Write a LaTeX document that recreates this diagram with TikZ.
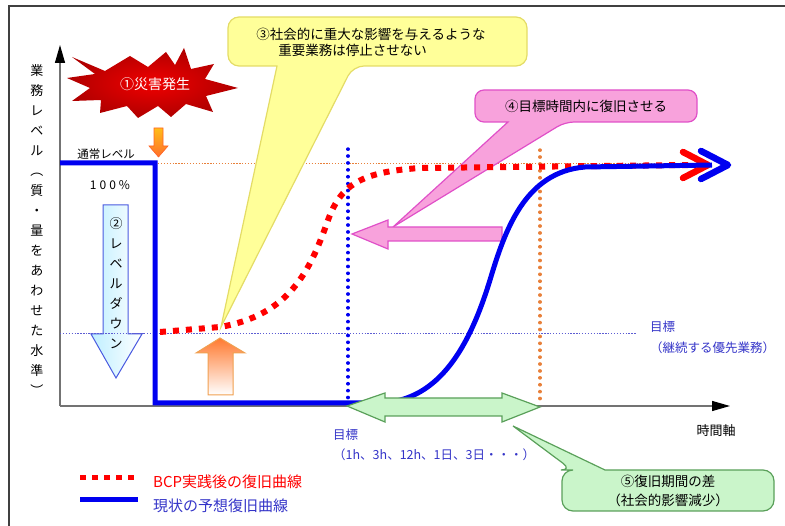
\documentclass[tikz,border=0pt]{standalone}
\usepackage{fontspec}
\setmainfont{Noto Sans CJK JP}
\usetikzlibrary{arrows.meta}
\definecolor{lineblue}{HTML}{0000F0}
\definecolor{bcpred}{HTML}{FF0000}
\definecolor{txtblue}{HTML}{3434C8}
\definecolor{dotorange}{HTML}{E8803A}
\definecolor{yfill}{HTML}{FFFF99}
\definecolor{ydraw}{HTML}{E4DC66}
\definecolor{pfill}{HTML}{F8A2DC}
\definecolor{pdraw}{HTML}{E050C8}
\definecolor{gfill}{HTML}{CAF5CA}
\definecolor{gdraw}{HTML}{5AA05A}
\definecolor{boomred}{HTML}{F00000}
\definecolor{boomdark}{HTML}{B00000}
\definecolor{arrorange}{HTML}{FF7A30}
\definecolor{arrorangeb}{HTML}{F0A050}
\definecolor{arrcyan}{HTML}{BFEFFF}
\definecolor{arrcyanb}{HTML}{4A5AE0}
\newcommand\myfs[2]{\fontsize{#1}{#2}\selectfont}
\tikzset{
  axisline/.style={draw=black!55, line width=1.3pt},
  curblue/.style={draw=lineblue, line width=5pt},
  bcpline/.style={draw=bcpred, line width=6pt, dash pattern=on 6pt off 7pt},
  chev/.style={line width=6.5pt, line cap=round, line join=round},
  thinorange/.style={draw=dotorange, line width=0.9pt, dash pattern=on 1.3pt off 1.6pt},
  thinblue/.style={draw=txtblue!80, line width=0.9pt, dash pattern=on 1.3pt off 1.6pt},
  vdotblue/.style={draw=lineblue, line width=3.4pt, line cap=round, dash pattern=on 0.3pt off 6.6pt},
  vdotorange/.style={draw=dotorange, line width=3.4pt, line cap=round, dash pattern=on 0.3pt off 6.6pt},
  ycall/.style={fill=yfill, draw=ydraw, line width=1.2pt},
  pcall/.style={fill=pfill, draw=pdraw, line width=1.2pt},
  gcall/.style={fill=gfill, draw=gdraw, line width=1.2pt},
  lbl/.style={inner sep=0pt, font=\myfs{13.5}{16}},
  bluelbl/.style={inner sep=0pt, text=txtblue, font=\myfs{12.5}{15}},
  axtip/.style={-{Triangle[length=18pt,width=10pt,color=black]}},
}
\begin{document}
\begin{tikzpicture}[x=1pt,y=-1pt]
\useasboundingbox (0,0) rectangle (785,526);
% frame
\draw[black!75, line width=1.5pt] (785,6) -- (9,6) -- (9,526);

% named points
\coordinate (O) at (60,406);
\coordinate (Ytop) at (60,45);
\coordinate (Xend) at (730,406);

% axes
\draw[axisline, axtip] (O) -- (Ytop);
\draw[axisline, axtip] (O) -- (Xend);

% y-axis label
\node[inner sep=0pt, align=center, font=\myfs{13}{20}] (ylab) at (37,230)
  {業\\務\\レ\\ベ\\ル\\︵\\質\\・\\量\\を\\あ\\わ\\せ\\た\\水\\準\\︶};

% explosion
\shade[inner color=boomred, outer color=boomdark]
  (72,57) -- (105,71) -- (130,56) -- (148,67) -- (166,52) -- (175,65) -- (184,48)
  -- (191,69) -- (214,64) -- (205,79) -- (238,88) -- (206,96) -- (213,112)
  -- (186,104) -- (171,117) -- (158,106) -- (138,118) -- (127,106) -- (100,113)
  -- (101,100) -- (72,101) -- (90,88) -- (67,78) -- (95,74) -- cycle;
\node[lbl, text=white, font=\myfs{14}{16}] (boom) at (155,84) {①災害発生};

% labels near step
\node[lbl, font=\myfs{11.5}{14}] (normal) at (106,154) {通常レベル};
\node[lbl, font=\myfs{12}{14}\addfontfeature{LetterSpace=25}] (pct) at (110,185) {100\%};

% orange small down arrow
\shade[top color=arrorange!50!yellow, bottom color=arrorange!90!red, draw=arrorange!80!red, line width=0.6pt]
  (154,128) -- (163,128) -- (163,146) -- (168,146) -- (158.5,157) -- (149,146) -- (154,146) -- cycle;

% thin reference lines
\draw[thinorange] (158,163) -- (700,163);
\draw[thinblue] (60,333) -- (637,333);

% level-down arrow (2)
\shade[left color=arrcyan, right color=white, draw=arrcyanb, line width=1pt]
  (103,205) -- (128,205) -- (128,334) -- (142,334) -- (116,378) -- (91,334) -- (103,334) -- cycle;
\draw[thinblue] (88,333) -- (145,333);
\node[inner sep=0pt, align=center, font=\myfs{13}{20}] (down) at (116,283)
  {②\\レ\\ベ\\ル\\ダ\\ウ\\ン};

% orange up arrow
\shade[top color=arrorange, bottom color=white, draw=arrorangeb, line width=1pt]
  (220,338) -- (245,353) -- (233,353) -- (233,395) -- (208,395) -- (208,353) -- (196,353) -- cycle;

% yellow callout (3)
\path[ycall] (380,17) [rounded corners=11pt] -- (527,17) -- (527,66) -- (353,66)
  [sharp corners] -- (221,327) -- (277,66) [rounded corners=11pt] -- (228,66) -- (228,17) -- cycle;
\node[lbl, align=left] (c3) at (371,42)
  {③社会的に重大な影響を与えるような\\\hspace*{22pt}重要業務は停止させない};

% pink callout (4)
\path[pcall] (585,90) [rounded corners=9pt] -- (697,90) -- (697,122) -- (565,122)
  [sharp corners] -- (393,227) -- (508,122) [rounded corners=9pt] -- (475,122) -- (475,90) -- cycle;
\node[lbl] (c4) at (586,106) {④目標時間内に復旧させる};

% pink left arrow
\path[pcall] (352,234) -- (388,220) -- (388,227) -- (502,227) -- (502,241) -- (388,241) -- (388,249) -- cycle;

% vertical dotted lines
\draw[vdotblue] (348,149) -- (348,404);
\draw[vdotorange] (540,150) -- (540,405);

% BCP curve
\draw[bcpline] (160,332) -- (220,327) .. controls (290,315) and (310,270) .. (327,223)
  .. controls (340,185) and (360,172) .. (420,168) -- (690,165);
\draw[chev, bcpred] (683,152) -- (708,165) -- (683,178);

% current curve
\draw[curblue, line join=miter] (60,163) -- (155,163) -- (155,403) -- (380,403)
  .. controls (440,401) and (470,345) .. (490,280)
  .. controls (505,230) and (525,172) .. (585,167) -- (712,165);
\draw[chev, lineblue] (701,151) -- (728,165) -- (701,179);

% green double arrow
\path[gcall] (347,406) -- (385,393) -- (385,398) -- (502,398) -- (502,393) -- (540,407)
  -- (502,422) -- (502,416) -- (385,416) -- (385,422) -- cycle;

% green callout (5)
\path[gcall] (668,470) [rounded corners=11pt] -- (774,470) -- (774,511) -- (562,511) -- (562,470) -- (572,470)
  [sharp corners] -- (513,426) -- (605,470) [rounded corners=11pt] -- cycle;
\node[lbl, align=center, font=\myfs{13.5}{19}] (c5) at (668,491) {⑤復旧期間の差\\（社会的影響減少）};

% axis texts
\node[lbl, font=\myfs{13}{15}] (taxis) at (716,431) {時間軸};
\node[bluelbl, anchor=west] (g1a) at (333,435) {目標};
\node[bluelbl, anchor=west] (g1b) at (333,455) {（1h、3h、12h、1日、3日・・・）};
\node[bluelbl, anchor=west] (g2a) at (650,327) {目標};
\node[bluelbl, anchor=west] (g2b) at (650,348) {（継続する優先業務）};

% legend
\coordinate (la) at (80,478);
\coordinate (lb) at (138,478);
\coordinate (lc) at (80,500);
\coordinate (ld) at (138,500);
\draw[bcpred, line width=5pt, dash pattern=on 6pt off 6pt] (la) -- (lb);
\draw[lineblue, line width=5pt] (lc) -- (ld);
\node[inner sep=0pt, anchor=west, text=bcpred, font=\myfs{15}{17}] (leg1) at (153,482) {BCP実践後の復旧曲線};
\node[inner sep=0pt, anchor=west, text=txtblue, font=\myfs{15}{17}] (leg2) at (153,506) {現状の予想復旧曲線};
\end{tikzpicture}
\end{document}
